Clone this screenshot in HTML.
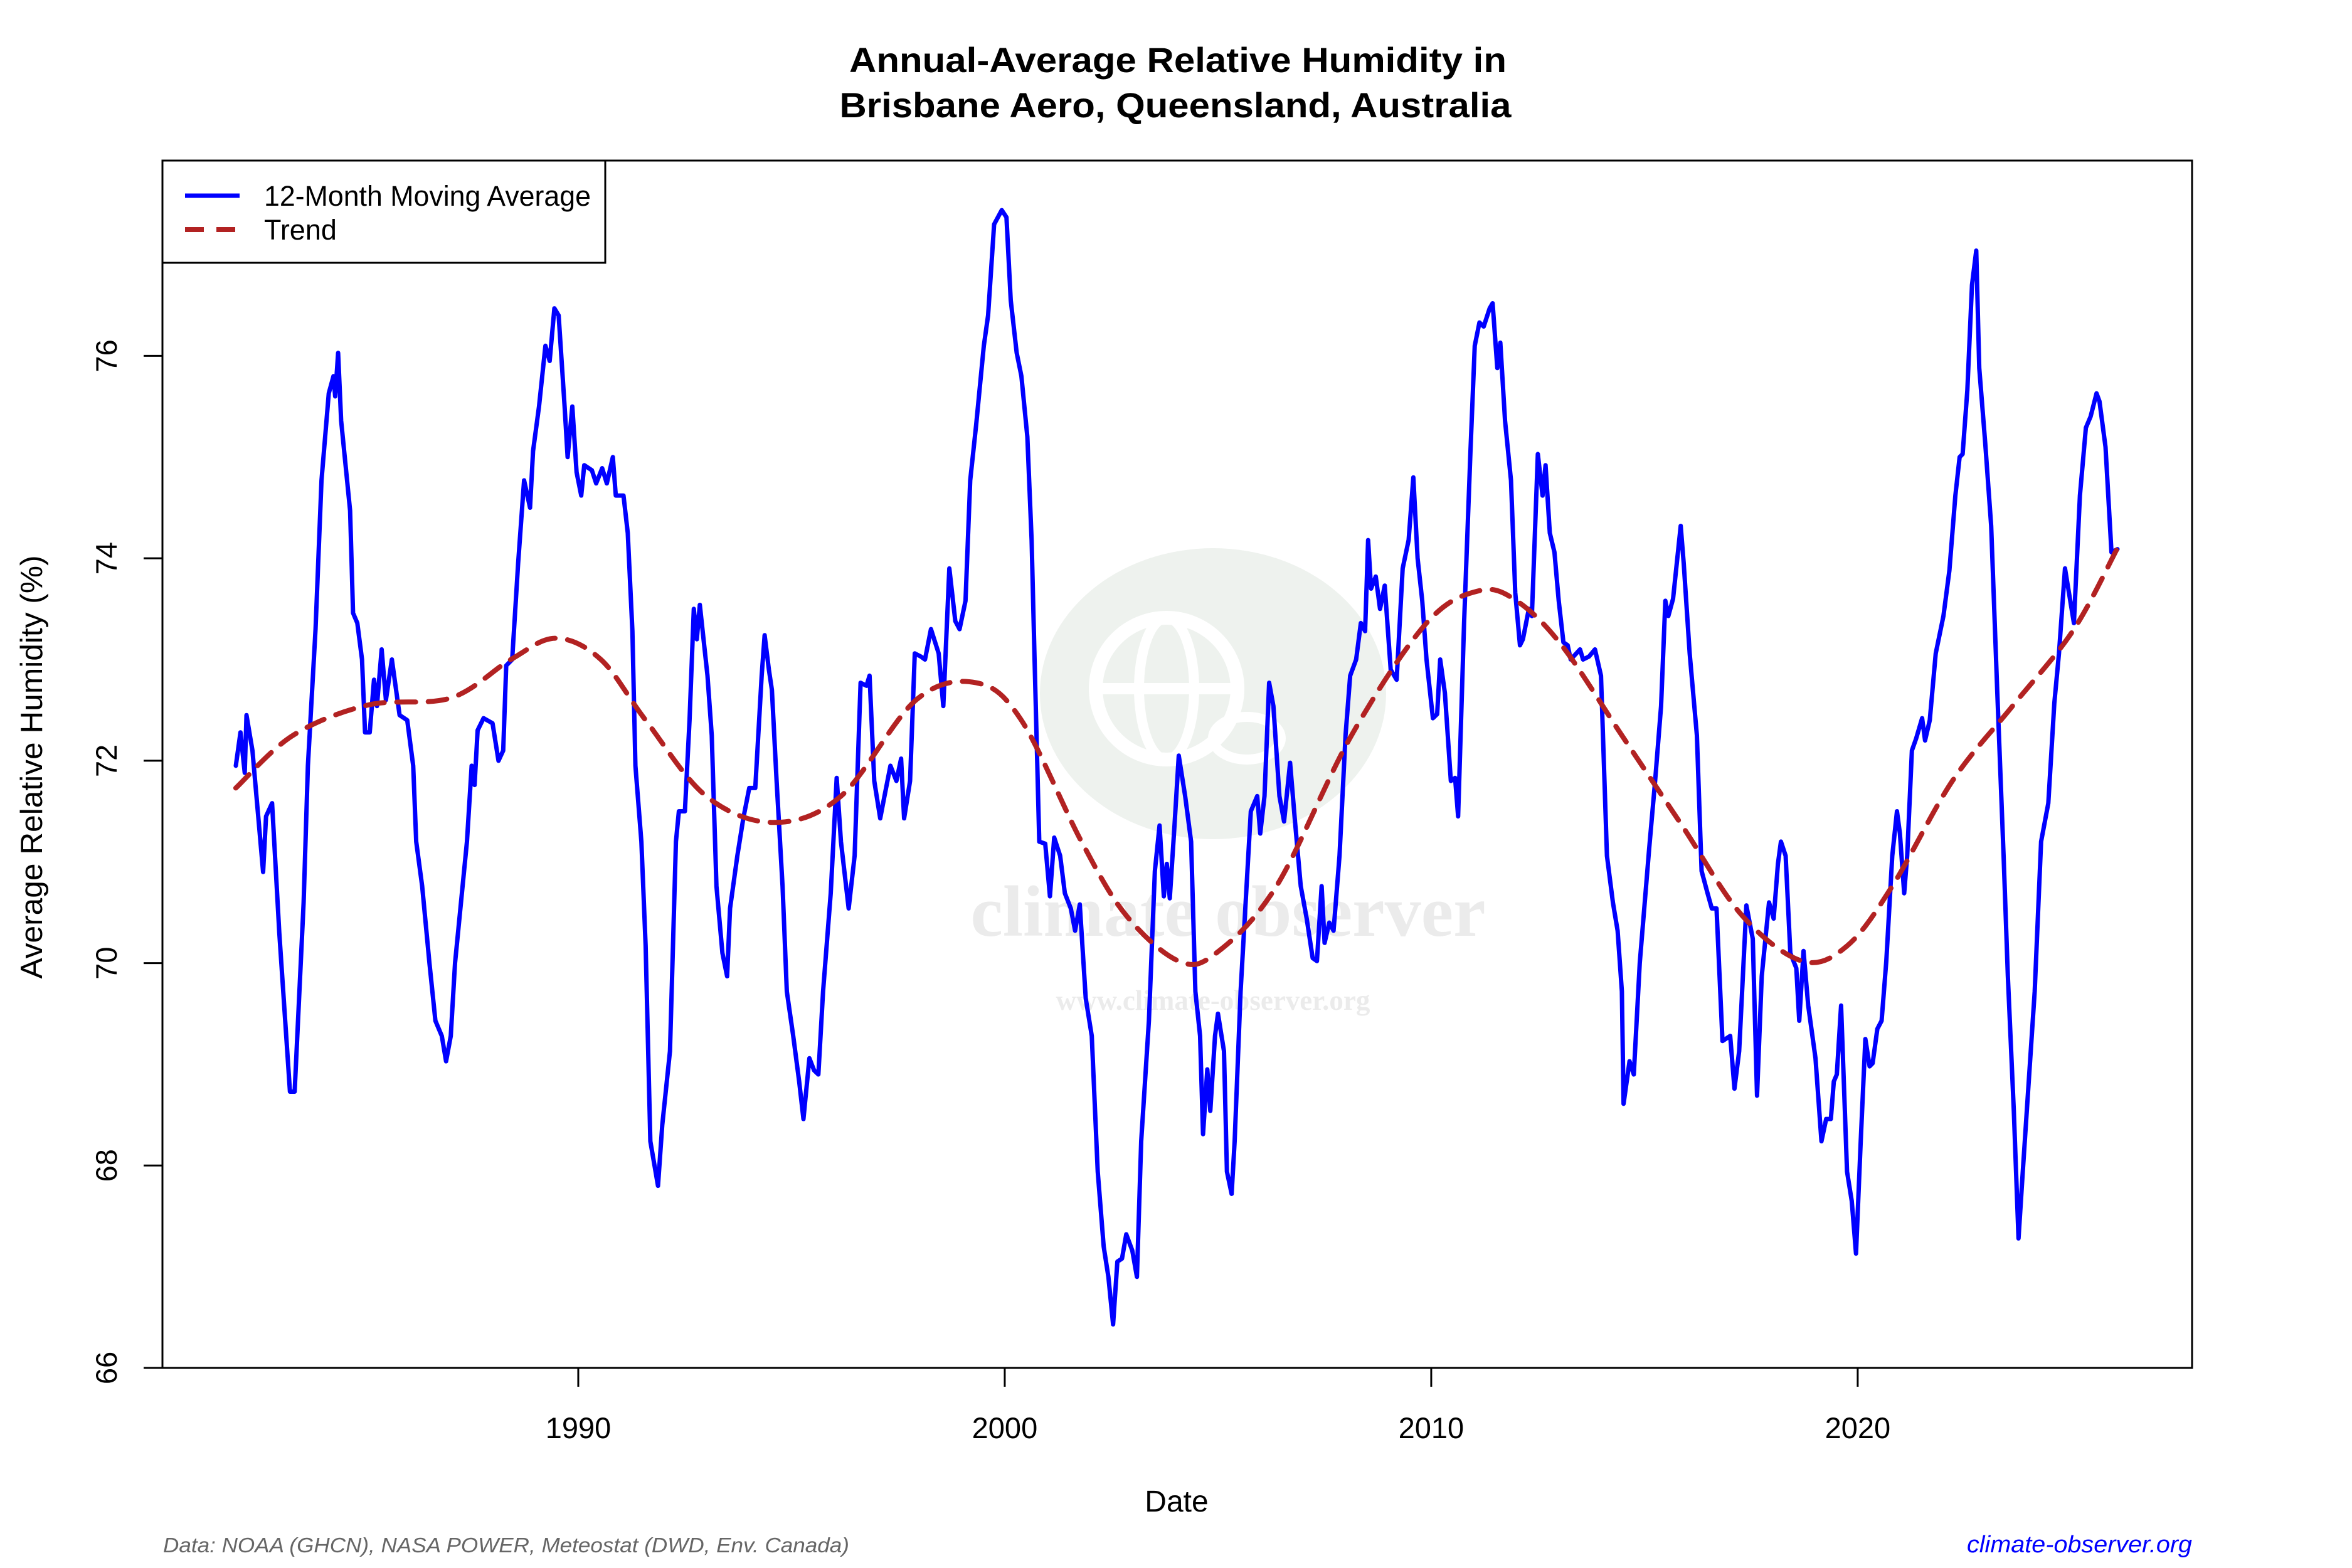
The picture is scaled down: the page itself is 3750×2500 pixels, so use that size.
<!DOCTYPE html>
<html><head><meta charset="utf-8"><style>
html,body{margin:0;padding:0;background:#fff;}
svg{display:block;font-family:"Liberation Sans",Arial,sans-serif;}
</style></head><body>
<svg id="chart" width="3750" height="2500" viewBox="0 0 3750 2500" xmlns="http://www.w3.org/2000/svg">
<rect x="0" y="0" width="3750" height="2500" fill="#fff"/>
<g id="watermark">
<ellipse cx="1934" cy="1106" rx="276" ry="232" fill="#eef2ee"/>
<ellipse cx="1860" cy="1098" rx="113" ry="113" fill="none" stroke="#fff" stroke-width="22"/>
<line x1="1747" y1="1098" x2="1973" y2="1098" stroke="#fff" stroke-width="18"/>
<ellipse cx="1860" cy="1098" rx="44" ry="113" fill="none" stroke="#fff" stroke-width="16"/>
<ellipse cx="1988" cy="1177" rx="54" ry="34" fill="none" stroke="#fff" stroke-width="16"/>
<text x="1958" y="1492" text-anchor="middle" font-family="Liberation Serif,serif" font-weight="bold" font-size="116" fill="#ebebeb">climate observer</text>
<text x="1934" y="1610" text-anchor="middle" font-family="Liberation Serif,serif" font-weight="bold" font-size="45" fill="#ebebeb">www.climate-observer.org</text>
</g>
<g id="plot"></g>
<text x="1878" y="115" text-anchor="middle" font-weight="bold" font-size="56" textLength="1048" lengthAdjust="spacingAndGlyphs">Annual-Average Relative Humidity in</text>
<text x="1874" y="187" text-anchor="middle" font-weight="bold" font-size="56" textLength="1071" lengthAdjust="spacingAndGlyphs">Brisbane Aero, Queensland, Australia</text>
<text x="1876" y="2410" text-anchor="middle" font-size="48">Date</text>
<text transform="translate(67,1223) rotate(-90)" text-anchor="middle" font-size="49" textLength="675" lengthAdjust="spacingAndGlyphs">Average Relative Humidity (%)</text>
<text x="260" y="2475" font-size="33" font-style="italic" fill="#666" textLength="1094" lengthAdjust="spacingAndGlyphs">Data: NOAA (GHCN), NASA POWER, Meteostat (DWD, Env. Canada)</text>
<text x="3495" y="2475" text-anchor="end" font-size="38" font-style="italic" fill="#0000ff" textLength="359" lengthAdjust="spacingAndGlyphs">climate-observer.org</text>
</svg>
<script>
const years=[1981.97,1982.08,1982.18,1982.22,1982.36,1982.61,1982.68,1982.82,1982.99,1983.24,1983.35,1983.56,1983.66,1983.84,1983.98,1984.15,1984.26,1984.30,1984.37,1984.44,1984.65,1984.72,1984.82,1984.93,1985.00,1985.11,1985.21,1985.28,1985.39,1985.49,1985.63,1985.81,1985.99,1986.13,1986.20,1986.34,1986.51,1986.65,1986.80,1986.90,1987.01,1987.11,1987.25,1987.39,1987.50,1987.57,1987.64,1987.78,1987.99,1988.13,1988.24,1988.31,1988.45,1988.59,1988.73,1988.87,1988.94,1989.08,1989.23,1989.33,1989.44,1989.54,1989.68,1989.75,1989.86,1989.96,1990.07,1990.14,1990.32,1990.42,1990.56,1990.67,1990.81,1990.88,1991.06,1991.16,1991.27,1991.34,1991.48,1991.58,1991.69,1991.87,1991.97,1992.15,1992.29,1992.36,1992.50,1992.61,1992.71,1992.78,1992.85,1993.03,1993.13,1993.24,1993.38,1993.49,1993.56,1993.73,1993.87,1994.01,1994.15,1994.30,1994.37,1994.47,1994.54,1994.65,1994.79,1994.89,1995.04,1995.18,1995.28,1995.42,1995.53,1995.63,1995.74,1995.92,1996.06,1996.16,1996.34,1996.48,1996.62,1996.76,1996.83,1996.94,1997.08,1997.18,1997.32,1997.46,1997.57,1997.64,1997.78,1997.89,1998.03,1998.13,1998.27,1998.45,1998.56,1998.70,1998.84,1998.94,1999.08,1999.19,1999.33,1999.51,1999.61,1999.75,1999.93,2000.04,2000.14,2000.28,2000.39,2000.53,2000.63,2000.70,2000.81,2000.95,2001.06,2001.16,2001.30,2001.41,2001.55,2001.65,2001.76,2001.90,2002.04,2002.18,2002.32,2002.43,2002.54,2002.64,2002.75,2002.85,2002.99,2003.10,2003.20,2003.38,2003.52,2003.63,2003.73,2003.80,2003.87,2003.98,2004.08,2004.23,2004.37,2004.47,2004.58,2004.65,2004.75,2004.82,2004.93,2005.00,2005.14,2005.21,2005.32,2005.39,2005.53,2005.67,2005.77,2005.92,2005.99,2006.09,2006.20,2006.30,2006.44,2006.55,2006.69,2006.80,2006.94,2007.08,2007.22,2007.32,2007.43,2007.50,2007.61,2007.71,2007.85,2007.99,2008.10,2008.24,2008.35,2008.45,2008.52,2008.59,2008.70,2008.80,2008.91,2009.05,2009.19,2009.33,2009.47,2009.58,2009.68,2009.79,2009.89,2010.04,2010.14,2010.21,2010.32,2010.46,2010.56,2010.63,2010.77,2010.92,2011.02,2011.13,2011.23,2011.37,2011.44,2011.55,2011.62,2011.73,2011.87,2011.97,2012.08,2012.15,2012.29,2012.36,2012.50,2012.61,2012.68,2012.78,2012.89,2012.99,2013.10,2013.20,2013.27,2013.49,2013.56,2013.70,2013.84,2013.98,2014.12,2014.26,2014.37,2014.47,2014.51,2014.65,2014.75,2014.89,2015.11,2015.25,2015.39,2015.49,2015.56,2015.67,2015.85,2015.92,2016.06,2016.23,2016.34,2016.48,2016.58,2016.69,2016.83,2017.01,2017.11,2017.22,2017.39,2017.54,2017.64,2017.75,2017.92,2018.03,2018.13,2018.20,2018.31,2018.42,2018.56,2018.63,2018.73,2018.84,2019.01,2019.15,2019.26,2019.37,2019.44,2019.51,2019.61,2019.75,2019.86,2019.96,2020.07,2020.18,2020.28,2020.35,2020.46,2020.56,2020.67,2020.81,2020.92,2020.99,2021.09,2021.16,2021.27,2021.37,2021.51,2021.58,2021.69,2021.83,2022.01,2022.15,2022.29,2022.39,2022.46,2022.57,2022.68,2022.78,2022.85,2022.99,2023.13,2023.27,2023.42,2023.52,2023.66,2023.77,2023.87,2024.01,2024.15,2024.30,2024.47,2024.61,2024.72,2024.86,2025.07,2025.21,2025.35,2025.46,2025.60,2025.67,2025.81,2025.95,2026.09];
const humidity=[71.95,72.28,71.88,72.45,72.1,70.9,71.45,71.58,70.3,68.73,68.73,70.6,71.95,73.3,74.77,75.63,75.8,75.6,76.03,75.36,74.47,73.46,73.36,73.0,72.28,72.28,72.8,72.54,73.1,72.6,73.0,72.45,72.4,71.95,71.2,70.76,70.0,69.43,69.28,69.03,69.28,70.0,70.6,71.2,71.95,71.76,72.3,72.42,72.37,72.0,72.1,72.94,73.0,73.95,74.77,74.5,75.06,75.5,76.1,75.95,76.47,76.4,75.5,75.0,75.5,74.85,74.62,74.92,74.87,74.74,74.89,74.74,75.0,74.62,74.62,74.25,73.28,71.95,71.2,70.17,68.24,67.8,68.4,69.13,71.2,71.5,71.5,72.4,73.5,73.2,73.54,72.84,72.25,70.76,70.1,69.87,70.54,71.06,71.43,71.73,71.73,72.84,73.24,72.9,72.7,71.8,70.76,69.72,69.28,68.83,68.46,69.06,68.94,68.9,69.72,70.69,71.83,71.2,70.54,71.06,72.77,72.74,72.84,71.8,71.43,71.65,71.95,71.8,72.02,71.43,71.8,73.06,73.03,73.0,73.3,73.06,72.54,73.9,73.38,73.3,73.58,74.77,75.32,76.1,76.4,77.3,77.44,77.37,76.55,76.03,75.8,75.2,74.18,73.0,71.2,71.18,70.66,71.24,71.06,70.69,70.54,70.32,70.58,69.65,69.28,67.94,67.2,66.9,66.43,67.05,67.08,67.32,67.16,66.9,68.24,69.43,70.91,71.36,70.66,70.98,70.64,71.36,72.05,71.65,71.2,69.72,69.28,68.31,68.95,68.54,69.28,69.5,69.13,67.94,67.72,68.24,69.72,70.76,71.5,71.65,71.28,71.65,72.77,72.54,71.65,71.4,71.98,71.43,70.76,70.44,70.05,70.02,70.76,70.2,70.4,70.32,71.06,72.25,72.84,73.0,73.36,73.28,74.18,73.7,73.82,73.5,73.73,72.9,72.8,73.9,74.18,74.8,74.0,73.58,73.0,72.42,72.46,73.0,72.67,71.8,71.83,71.45,73.36,75.06,76.1,76.33,76.29,76.47,76.52,75.88,76.13,75.36,74.77,73.66,73.14,73.2,73.5,73.43,75.03,74.62,74.92,74.25,74.06,73.58,73.17,73.14,73.0,73.1,73.0,73.03,73.1,72.84,71.06,70.6,70.32,69.72,68.61,69.03,68.9,70.0,71.13,71.8,72.54,73.58,73.43,73.6,74.32,73.95,73.06,72.25,70.91,70.69,70.54,70.54,69.23,69.28,68.76,69.13,70.57,70.24,68.69,69.87,70.6,70.44,70.98,71.2,71.06,70.1,69.95,69.43,70.12,69.58,69.06,68.24,68.46,68.46,68.83,68.9,69.58,67.94,67.65,67.13,68.24,69.25,68.98,69.01,69.35,69.43,70.02,71.06,71.5,71.28,70.69,71.06,72.1,72.22,72.42,72.2,72.4,73.06,73.43,73.88,74.62,75.0,75.03,75.66,76.7,77.04,75.88,75.14,74.32,72.7,71.06,69.87,68.54,67.28,67.94,68.83,69.72,71.2,71.58,72.57,73.06,73.9,73.36,74.62,75.29,75.4,75.63,75.55,75.1,74.06,74.09];
const trendYears=[1981.97,1983.31,1985.07,1987.01,1988.42,1989.47,1990.53,1991.58,1993.0,1994.58,1996.16,1997.92,1999.33,2000.39,2001.80,2002.85,2004.08,2004.96,2006.37,2008.13,2009.89,2011.13,2012.0,2013.06,2014.47,2015.88,2017.29,2018.70,2019.75,2020.81,2022.22,2023.63,2025.04,2026.09];
const trendValues=[71.73,72.25,72.55,72.62,73.0,73.21,73.0,72.4,71.65,71.39,71.65,72.6,72.77,72.4,71.2,70.47,70.02,70.1,70.76,72.25,73.36,73.68,73.58,73.14,72.25,71.36,70.47,70.02,70.17,70.76,71.8,72.54,73.28,74.1];
const xTicks=[1990,2000,2010,2020];
const yTicks=[66,68,70,72,74,76];

const L=259,R=3495,T=256,B=2181;
const XMIN=1980.25,XMAX=2027.84,YMIN=66,YMAX=77.93;
const sx=v=>L+(v-XMIN)/(XMAX-XMIN)*(R-L);
const sy=v=>B-(v-YMIN)/(YMAX-YMIN)*(B-T);
const NS="http://www.w3.org/2000/svg";
const plot=document.getElementById('plot');
function mk(tag,attrs,parent){const e=document.createElementNS(NS,tag);for(const k in attrs)e.setAttribute(k,attrs[k]);(parent||plot).appendChild(e);return e;}

let d=years.map((y,i)=>(i?'L':'M')+sx(y).toFixed(1)+','+sy(humidity[i]).toFixed(1)).join('');
const line=mk('path',{d:d,fill:'none',stroke:'#0000ff','stroke-width':7,'stroke-linejoin':'round','stroke-linecap':'round'});



const tp=trendYears.map((y,i)=>[sx(y),sy(trendValues[i])]);
let td='M'+tp[0][0]+','+tp[0][1];
for(let i=0;i<tp.length-1;i++){const p0=tp[Math.max(0,i-1)],p1=tp[i],p2=tp[i+1],p3=tp[Math.min(tp.length-1,i+2)];
td+='C'+(p1[0]+(p2[0]-p0[0])/6)+','+(p1[1]+(p2[1]-p0[1])/6)+' '+(p2[0]-(p3[0]-p1[0])/6)+','+(p2[1]-(p3[1]-p1[1])/6)+' '+p2[0]+','+p2[1];}
const trend=mk('path',{d:td,fill:'none',stroke:'#b22222','stroke-width':8,'stroke-dasharray':'30 20','stroke-linecap':'round'});



const frame=mk('rect',{x:L,y:T,width:R-L,height:B-T,fill:'none',stroke:'#000','stroke-width':3});



xTicks.forEach(t=>{
  const tk=mk('line',{x1:sx(t),x2:sx(t),y1:B,y2:B+30,stroke:'#000','stroke-width':3});
  
  
  const lb=mk('text',{x:sx(t),y:2293,'text-anchor':'middle','font-size':47});
  lb.textContent=t;
  
  
});
yTicks.forEach(t=>{
  const tk=mk('line',{x1:L-30,x2:L,y1:sy(t),y2:sy(t),stroke:'#000','stroke-width':3});
  
  
  const lb=mk('text',{transform:'translate(186,'+sy(t)+') rotate(-90)','text-anchor':'middle','font-size':47});
  lb.textContent=t;
  
  
});

const lg=mk('g',{});


mk('rect',{x:L,y:T,width:706,height:163,fill:'#fff',stroke:'#000','stroke-width':3},lg);
const e1=mk('g',{},lg);


mk('line',{x1:295,x2:382,y1:312,y2:312,stroke:'#0000ff','stroke-width':7},e1);
const t1=mk('text',{x:421,y:328,'font-size':45,textLength:521,lengthAdjust:'spacingAndGlyphs'},e1);t1.textContent='12-Month Moving Average';
const e2=mk('g',{},lg);


mk('line',{x1:295,x2:382,y1:366,y2:366,stroke:'#b22222','stroke-width':8,'stroke-dasharray':'30 20'},e2);
const t2=mk('text',{x:421,y:382,'font-size':45},e2);t2.textContent='Trend';
</script>
</body></html>
